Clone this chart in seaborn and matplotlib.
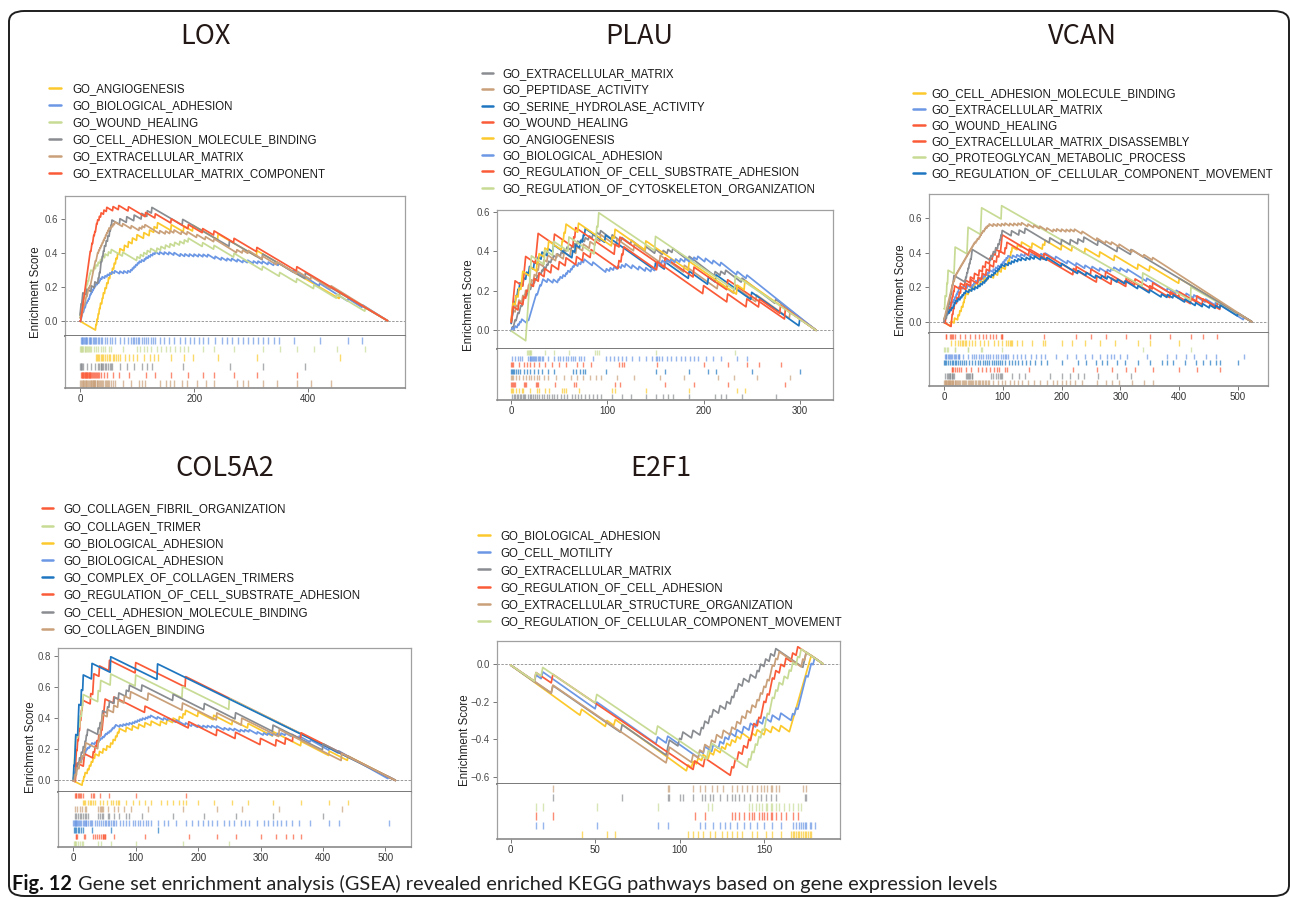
import numpy as np
import pandas as pd
import matplotlib
matplotlib.use("Agg")
import matplotlib.pyplot as plt
import seaborn as sns
from matplotlib.lines import Line2D
from matplotlib.patches import FancyBboxPatch

YEL = "#fcc92c"
LBL = "#6b97e4"
GRN = "#c8db95"
GRY = "#898c90"
TAN = "#c9a079"
ORG = "#fa5a37"
DBL = "#1f76c0"

# ---- LOX (540 ranked genes) ----
lox_n = 540
lox_names = ["GO_ANGIOGENESIS", "GO_BIOLOGICAL_ADHESION", "GO_WOUND_HEALING",
             "GO_CELL_ADHESION_MOLECULE_BINDING", "GO_EXTRACELLULAR_MATRIX",
             "GO_EXTRACELLULAR_MATRIX_COMPONENT"]
lox_colors = [YEL, LBL, GRN, GRY, TAN, ORG]
lox_angiogenesis = [28, 30, 32, 34, 36, 39, 41, 44, 47, 50, 53, 57, 60, 63, 66, 70, 78, 85, 92, 100,
                    112, 122, 130, 136, 160, 182, 198, 242, 310, 455]
lox_bio_adhesion = [2, 3, 4, 5, 7, 8, 10, 11, 13, 15, 17, 18, 20, 22, 24, 26, 28, 31, 34, 36, 39, 44,
                    48, 52, 56, 61, 70, 77, 84, 89, 92, 95, 98, 101, 104, 108, 113, 116, 120, 124, 128,
                    132, 140, 148, 156, 165, 176, 184, 192, 200, 208, 216, 224, 237, 248, 258, 266, 276,
                    286, 294, 304, 312, 320, 330, 340, 348, 375, 420, 470, 495]
lox_wound = [0, 1, 2, 3, 4, 6, 8, 9, 11, 12, 14, 16, 17, 19, 24, 28, 32, 36, 40, 44, 50, 55, 75, 100,
             106, 112, 118, 124, 135, 142, 150, 158, 166, 175, 183, 190, 215, 235, 270, 320, 350, 380,
             410, 450, 500]
lox_cam_binding = [0, 1, 2, 4, 5, 12, 20, 26, 32, 34, 36, 37, 39, 41, 43, 46, 49, 52, 54, 56, 70, 82,
                   95, 108, 118, 126, 180, 262, 320, 395]
lox_ecm = [0, 2, 4, 5, 6, 7, 9, 10, 11, 13, 14, 15, 17, 19, 20, 21, 22, 23, 24, 25, 26, 27, 29, 30, 31,
           33, 35, 37, 39, 41, 43, 45, 47, 49, 51, 55, 58, 61, 75, 90, 104, 109, 114, 140, 150, 158,
           165, 178, 188, 205, 220, 235, 275, 285, 295, 320, 345, 380, 405, 440]
lox_ecm_component = [2, 3, 4, 5, 6, 7, 8, 9, 10, 11, 12, 13, 14, 15, 16, 17, 18, 20, 21, 23, 24, 26, 28,
                     29, 31, 34, 37, 42, 47, 58, 68, 85, 115, 132, 160, 190, 215, 235, 270, 310, 380]
lox_hits = [lox_angiogenesis, lox_bio_adhesion, lox_wound, lox_cam_binding, lox_ecm, lox_ecm_component]
lox_rug = [1, 2, 0, 3, 5, 4]

# ---- PLAU (318 ranked genes) ----
plau_n = 318
plau_names = ["GO_EXTRACELLULAR_MATRIX", "GO_PEPTIDASE_ACTIVITY", "GO_SERINE_HYDROLASE_ACTIVITY",
              "GO_WOUND_HEALING", "GO_ANGIOGENESIS", "GO_BIOLOGICAL_ADHESION",
              "GO_REGULATION_OF_CELL_SUBSTRATE_ADHESION", "GO_REGULATION_OF_CYTOSKELETON_ORGANIZATION"]
plau_colors = [GRY, TAN, DBL, ORG, YEL, LBL, ORG, GRN]
plau_ecm = [1, 3, 4, 6, 7, 9, 10, 12, 13, 14, 17, 19, 21, 23, 25, 27, 29, 32, 34, 37, 39, 42, 44, 48,
            52, 55, 58, 63, 66, 69, 73, 77, 81, 85, 89, 93, 105, 115, 125, 140, 150, 158, 163, 168,
            185, 212, 218, 223, 240, 275]
plau_peptidase = [0, 1, 2, 5, 8, 12, 15, 18, 21, 24, 27, 29, 34, 38, 47, 55, 62, 68, 75, 82, 88, 93,
                  110, 128, 155, 180, 215, 232, 255, 290]
plau_serine = [0, 1, 2, 3, 5, 7, 9, 13, 16, 19, 24, 28, 32, 38, 44, 64, 67, 72, 75, 77, 98, 150, 160,
               185, 205, 213, 250, 300]
plau_wound = [0, 1, 2, 3, 4, 13, 14, 15, 26, 27, 28, 45, 65, 67, 108, 113, 160, 190, 225, 285]
plau_angiogenesis = [0, 1, 2, 5, 8, 11, 12, 20, 27, 29, 35, 39, 53, 55, 57, 70, 105, 108, 140, 185,
                     235, 243]
plau_bio_adhesion = [1, 4, 7, 9, 11, 17, 19, 20, 21, 22, 23, 24, 25, 26, 28, 29, 30, 32, 33, 38, 44, 49,
                     51, 54, 57, 59, 62, 64, 66, 70, 73, 76, 85, 99, 103, 107, 111, 115, 119, 126, 133,
                     140, 146, 150, 152, 154, 157, 162, 166, 171, 176, 181, 186, 190, 194, 202, 210,
                     218, 235, 245]
plau_cell_substrate = [0, 1, 2, 8, 13, 16, 19, 24, 29, 35, 42, 50, 57, 68, 75, 83, 112, 115, 117, 152,
                       200, 225, 245, 258, 280]
plau_cytoskeleton = [16, 17, 18, 19, 20, 21, 35, 44, 60, 87, 89, 91, 150, 233]
plau_hits = [plau_ecm, plau_peptidase, plau_serine, plau_wound, plau_angiogenesis, plau_bio_adhesion,
             plau_cell_substrate, plau_cytoskeleton]
plau_rug = [7, 5, 6, 2, 1, 3, 4, 0]

# ---- VCAN (525 ranked genes); last two sets have no legend entry ----
vcan_n = 525
vcan_names = ["GO_CELL_ADHESION_MOLECULE_BINDING", "GO_EXTRACELLULAR_MATRIX", "GO_WOUND_HEALING",
              "GO_EXTRACELLULAR_MATRIX_DISASSEMBLY", "GO_PROTEOGLYCAN_METABOLIC_PROCESS",
              "GO_REGULATION_OF_CELLULAR_COMPONENT_MOVEMENT", None, None]
vcan_colors = [YEL, LBL, ORG, ORG, GRN, DBL, GRY, TAN]
vcan_cam_binding = [12, 18, 24, 27, 30, 33, 35, 37, 42, 47, 53, 62, 68, 75, 85, 92, 98, 105, 109, 112,
                    114, 116, 125, 132, 150, 168, 172, 200, 218, 240, 265, 290, 330, 350, 400]
vcan_ecm = [1, 3, 4, 6, 8, 10, 12, 14, 17, 19, 21, 23, 25, 26, 33, 40, 48, 51, 54, 59, 63, 67, 71, 75,
            78, 84, 88, 92, 97, 100, 103, 106, 109, 117, 124, 131, 138, 148, 157, 165, 172, 190, 210,
            225, 240, 252, 265, 278, 284, 289, 300, 312, 345, 380, 395, 412, 425, 445, 462, 510]
vcan_wound = [3, 4, 10, 12, 14, 16, 18, 28, 36, 45, 52, 60, 66, 71, 78, 83, 88, 97, 98, 99, 170, 225,
              250, 275, 310, 350, 385, 420, 440, 465]
vcan_ecm_disassembly = [13, 14, 16, 18, 22, 26, 29, 38, 46, 58, 65, 72, 78, 85, 90, 94, 104, 107, 145,
                        220, 260, 285, 310, 325, 355, 400, 430, 470]
vcan_proteoglycan = [0, 2, 5, 7, 18, 19, 40, 41, 63, 64, 98, 338, 420]
vcan_component_movement = [0, 2, 4, 7, 10, 13, 16, 18, 20, 24, 28, 31, 34, 37, 43, 48, 53, 58, 62, 66,
                           70, 73, 76, 81, 85, 88, 92, 95, 98, 104, 110, 115, 120, 126, 132, 140, 147,
                           154, 165, 175, 200, 228, 242, 258, 268, 278, 295, 308, 330, 350, 370, 380,
                           390, 410, 428, 440, 452, 462, 470, 500]
vcan_gray_set = [1, 5, 6, 8, 10, 11, 13, 14, 16, 17, 37, 39, 41, 43, 45, 47, 48, 80, 84, 88, 92, 95, 97,
                 99, 115, 128, 138, 180, 200, 215, 228, 238, 262, 295, 318]
vcan_tan_set = [0, 1, 2, 3, 4, 5, 6, 7, 8, 9, 10, 11, 12, 13, 14, 15, 16, 18, 19, 20, 22, 24, 26, 28,
                30, 32, 34, 36, 38, 40, 42, 44, 46, 48, 50, 52, 55, 57, 60, 62, 64, 66, 69, 71, 74, 77,
                84, 91, 98, 104, 112, 119, 126, 132, 143, 153, 163, 175, 186, 192, 200, 208, 215, 222,
                235, 260, 275, 285, 298, 320, 340, 355]
vcan_hits = [vcan_cam_binding, vcan_ecm, vcan_wound, vcan_ecm_disassembly, vcan_proteoglycan,
             vcan_component_movement, vcan_gray_set, vcan_tan_set]
vcan_rug = [2, 0, 4, 1, 5, 3, 6, 7]

# ---- COL5A2 (517 ranked genes) ----
col_n = 517
col_names = ["GO_COLLAGEN_FIBRIL_ORGANIZATION", "GO_COLLAGEN_TRIMER", "GO_BIOLOGICAL_ADHESION",
             "GO_BIOLOGICAL_ADHESION", "GO_COMPLEX_OF_COLLAGEN_TRIMERS",
             "GO_REGULATION_OF_CELL_SUBSTRATE_ADHESION", "GO_CELL_ADHESION_MOLECULE_BINDING",
             "GO_COLLAGEN_BINDING"]
col_colors = [ORG, GRN, YEL, LBL, DBL, ORG, GRY, TAN]
col_fibril = [3, 4, 5, 7, 9, 11, 13, 15, 28, 32, 33, 42, 58, 100, 180]
col_trimer = [1, 2, 3, 4, 8, 11, 14, 16, 40, 44, 60, 100, 175, 250]
col_bio_adhesion_a = [15, 17, 19, 23, 26, 29, 32, 35, 42, 48, 54, 60, 64, 68, 71, 74, 85, 95, 105, 115,
                      125, 140, 150, 160, 170, 176, 180, 200, 225, 255, 280, 320, 365, 410, 440]
col_bio_adhesion_b = [0, 1, 2, 3, 4, 5, 6, 7, 9, 11, 13, 15, 17, 19, 20, 21, 23, 26, 28, 30, 35, 38, 41,
                      44, 47, 50, 52, 55, 58, 61, 63, 66, 68, 75, 80, 85, 90, 95, 99, 103, 107, 111, 116,
                      120, 124, 135, 145, 152, 165, 180, 190, 200, 208, 215, 222, 230, 242, 250, 258,
                      268, 275, 282, 295, 305, 312, 320, 327, 333, 340, 350, 362, 380, 410, 425, 505]
col_complex = [1, 3, 4, 8, 9, 13, 16, 30, 60, 135]
col_cell_substrate = [4, 5, 6, 17, 18, 32, 35, 38, 41, 45, 47, 48, 49, 50, 51, 65, 115, 185, 230, 260,
                      300, 325, 340, 352, 365]
col_cam_binding = [2, 5, 7, 10, 13, 16, 19, 21, 23, 40, 43, 46, 47, 55, 58, 66, 73, 85, 90, 110, 160,
                   210, 260, 320, 400]
col_collagen_binding = [3, 6, 10, 14, 18, 20, 40, 42, 44, 46, 47, 55, 65, 72, 82, 92, 120, 175, 230,
                        270, 330, 430]
col_hits = [col_fibril, col_trimer, col_bio_adhesion_a, col_bio_adhesion_b, col_complex,
            col_cell_substrate, col_cam_binding, col_collagen_binding]
col_rug = [0, 2, 7, 6, 3, 4, 5, 1]

# ---- E2F1 (186 ranked genes) ----
e2f1_n = 186
e2f1_names = ["GO_BIOLOGICAL_ADHESION", "GO_CELL_MOTILITY", "GO_EXTRACELLULAR_MATRIX",
              "GO_REGULATION_OF_CELL_ADHESION", "GO_EXTRACELLULAR_STRUCTURE_ORGANIZATION",
              "GO_REGULATION_OF_CELLULAR_COMPONENT_MOVEMENT"]
e2f1_colors = [YEL, LBL, GRY, ORG, TAN, GRN]
e2f1_bio_adhesion = [42, 57, 62, 105, 108, 111, 114, 118, 121, 125, 128, 131, 134, 137, 143, 146, 151,
                     155, 160, 166, 167, 168, 169, 170, 171, 172, 173, 174, 175, 176, 177, 178]
e2f1_motility = [15, 19, 51, 87, 93, 112, 115, 120, 124, 127, 130, 134, 138, 142, 146, 150, 155, 160,
                 167, 169, 171, 172, 173, 174, 175, 177, 178, 180]
e2f1_ecm = [25, 66, 93, 94, 100, 102, 108, 113, 115, 118, 120, 124, 128, 131, 133, 135, 138, 142, 146,
            148, 151, 154, 157, 174, 175]
e2f1_cell_adhesion = [15, 25, 109, 115, 131, 133, 135, 138, 141, 143, 144, 147, 149, 150, 152, 154, 155,
                      157, 160, 163, 167, 170]
e2f1_structure = [25, 93, 94, 108, 112, 115, 119, 122, 126, 131, 134, 137, 140, 143, 146, 148, 150, 152,
                  154, 155, 157, 159, 173, 175]
e2f1_component_movement = [15, 19, 51, 87, 117, 119, 141, 143, 145, 147, 149, 151, 152, 154, 155, 157,
                           159, 162, 165, 167, 170, 172]
e2f1_hits = [e2f1_bio_adhesion, e2f1_motility, e2f1_ecm, e2f1_cell_adhesion, e2f1_structure,
             e2f1_component_movement]
e2f1_rug = [4, 2, 5, 3, 1, 0]

W, H = 1290, 900


def running_es(hits, n):
    # classic (unweighted) running enrichment score
    tag = np.zeros(n)
    tag[hits] = 1
    nh = tag.sum()
    step = np.where(tag == 1, 1.0 / nh, -1.0 / (n - nh))
    return np.cumsum(step)


panels = [
    dict(title="LOX", title_xy=(205, 37), n=lox_n, names=lox_names, colors=lox_colors, hits=lox_hits,
         rug=lox_rug, box=(65, 196, 336, 388, 405), xlim=(-26.3, 569.5), ylim=(-0.09, 0.736),
         xticks=[0, 200, 400], yticks=[0.0, 0.2, 0.4, 0.6], legend=(49, 61, 72, 88.3, 16.9), ylab_x=36),
    dict(title="PLAU", title_xy=(639, 37), n=plau_n, names=plau_names, colors=plau_colors,
         hits=plau_hits, rug=plau_rug, box=(497, 210, 349, 400, 833), xlim=(-14.8, 334.5),
         ylim=(-0.0945, 0.608), xticks=[0, 100, 200, 300], yticks=[0.0, 0.2, 0.4, 0.6],
         legend=(482, 493, 502, 72.7, 16.43), ylab_x=469),
    dict(title="VCAN", title_xy=(1082, 37), n=vcan_n, names=vcan_names, colors=vcan_colors,
         hits=vcan_hits, rug=vcan_rug, box=(929, 194, 333, 386, 1268), xlim=(-25.5, 551),
         ylim=(-0.064, 0.742), xticks=[0, 100, 200, 300, 400, 500], yticks=[0.0, 0.2, 0.4, 0.6],
         legend=(913, 925, 931, 93.3, 16.0), ylab_x=901),
    dict(title="COL5A2", title_xy=(225, 468), n=col_n, names=col_names, colors=col_colors,
         hits=col_hits, rug=col_rug, box=(58, 648, 792, 847, 411), xlim=(-24.5, 541),
         ylim=(-0.075, 0.854), xticks=[0, 100, 200, 300, 400, 500], yticks=[0.0, 0.2, 0.4, 0.6, 0.8],
         legend=(42, 53, 63, 508.3, 17.2), ylab_x=31),
    dict(title="E2F1", title_xy=(661, 468), n=e2f1_n, names=e2f1_names, colors=e2f1_colors,
         hits=e2f1_hits, rug=e2f1_rug, box=(497, 641, 784, 839, 840), xlim=(-8.1, 195),
         ylim=(-0.639, 0.122), xticks=[0, 50, 100, 150], yticks=[-0.6, -0.4, -0.2, 0.0],
         legend=(478, 490, 500, 535, 17.2), ylab_x=465),
]

sns.set_theme(style="white")
plt.rcParams["font.family"] = ["Liberation Sans", "DejaVu Sans"]
plt.rcParams["axes.unicode_minus"] = True

fig = plt.figure(figsize=(W / 100, H / 100), dpi=100)


def fx(px):
    return px / W


def fy(py):
    return 1 - py / H


def tick_text(v):
    s = f"{v:.1f}"
    return s.replace("-", "\u2212")


def draw_panel(p):
    l, t, d, b, r = p["box"]
    ax = fig.add_axes([fx(l), fy(d), (r - l) / W, (d - t) / H])
    rax = fig.add_axes([fx(l), fy(b), (r - l) / W, (b - d) / H])

    frames = []
    for k, hits in enumerate(p["hits"]):
        frames.append(pd.DataFrame({"rank": np.arange(p["n"]),
                                    "es": running_es(hits, p["n"]),
                                    "set": f"s{k}"}))
    df = pd.concat(frames, ignore_index=True)
    pal = {f"s{k}": c for k, c in enumerate(p["colors"])}
    ax.axhline(0, color="#9a9a9a", lw=0.7, ls=(0, (2.5, 1.5)), zorder=1)
    sns.lineplot(data=df, x="rank", y="es", hue="set", palette=pal, estimator=None, sort=False,
                 legend=False, linewidth=1.25, ax=ax, zorder=2)

    nrow = len(p["rug"])
    for row, k in enumerate(p["rug"]):
        rax.vlines(p["hits"][k], row + 0.1, row + 0.9, color=p["colors"][k], lw=1.0, alpha=0.7)

    for a in (ax, rax):
        a.set_xlim(*p["xlim"])
        a.set_xlabel("")
        a.set_ylabel("")
        for s in a.spines.values():
            s.set_color("#a0a0a0")
            s.set_linewidth(0.9)
    ax.spines["bottom"].set_color("#6e6e6e")
    ax.spines["bottom"].set_linewidth(1.3)
    rax.spines["bottom"].set_color("#8a8a8a")
    rax.spines["bottom"].set_linewidth(1.2)
    rax.spines["top"].set_visible(False)

    ax.set_ylim(*p["ylim"])
    ax.set_yticks(p["yticks"])
    ax.set_yticklabels([tick_text(v) for v in p["yticks"]])
    ax.set_xticks([])
    ax.tick_params(axis="y", left=True, length=3, width=0.7, color="#777777", labelsize=7,
                   labelcolor="#4a4a4a", pad=2)

    rax.set_ylim(nrow, 0)
    rax.set_yticks([])
    rax.set_xticks(p["xticks"])
    rax.tick_params(axis="x", bottom=True, length=3, width=0.7, color="#777777", labelsize=7,
                    labelcolor="#333333", pad=1.5)

    fig.text(fx(p["ylab_x"]), fy((t + b) / 2), "Enrichment Score", rotation=90, ha="center",
             va="center", fontsize=8.3, color="#222222")

    fig.text(fx(p["title_xy"][0]), fy(p["title_xy"][1]), p["title"], ha="center", va="center",
             fontsize=19.5, color="#231815", family=["Noto Sans CJK SC", "DejaVu Sans"])

    hx0, hx1, tx, y0, pitch = p["legend"]
    row = 0
    for name, c in zip(p["names"], p["colors"]):
        if name is None:
            continue
        y = y0 + row * pitch
        fig.add_artist(Line2D([fx(hx0), fx(hx1)], [fy(y), fy(y)], color=c, lw=1.8,
                              transform=fig.transFigure))
        fig.text(fx(tx), fy(y + 4.2), name, ha="left", va="baseline", fontsize=8.3,
                 color="#1a1a1a")
        row += 1


for p in panels:
    draw_panel(p)

# outer rounded frame
fig.add_artist(FancyBboxPatch((fx(9), fy(896)), fx(1289) - fx(9), fy(11) - fy(896),
                              boxstyle="round,pad=0,rounding_size=0.012", transform=fig.transFigure,
                              fill=False, ec="#1e1e1e", lw=1.4))

# caption
cap_font = ["Lato", "DejaVu Sans"]
t1 = fig.text(fx(12), fy(884), "Fig. 12", ha="left", va="center", fontsize=14.4, weight="bold",
              family=cap_font, color="#111111")
fig.canvas.draw()
bb = t1.get_window_extent()
fig.text((bb.x1 + 6) / W, fy(884),
         "Gene set enrichment analysis (GSEA) revealed enriched KEGG pathways based on gene expression levels",
         ha="left", va="center", fontsize=14.4, family=cap_font, color="#222222")

fig.savefig("out.png", dpi=100)
